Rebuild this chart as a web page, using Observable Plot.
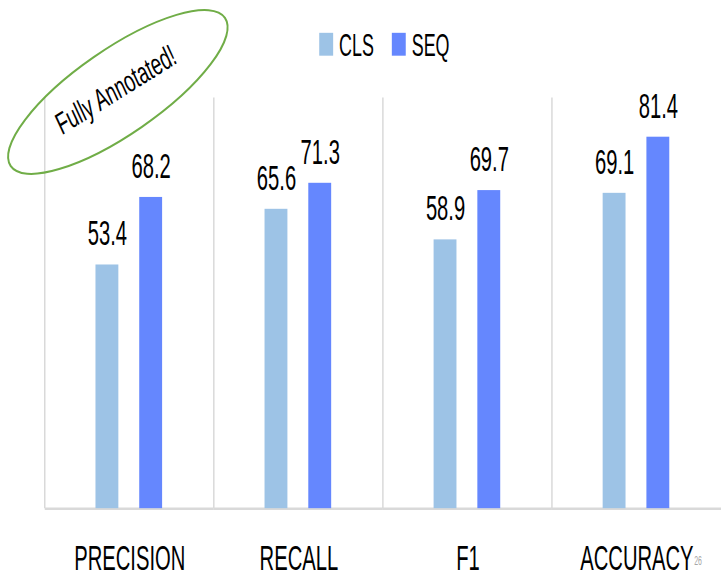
<!DOCTYPE html>
<html><head><meta charset="utf-8">
<script src="https://cdn.jsdelivr.net/npm/d3@7"></script>
<script src="https://cdn.jsdelivr.net/npm/@observablehq/plot@0.6"></script>
<style>
html,body{margin:0;padding:0;background:#fff;}
#chart{position:relative;width:721px;height:578px;overflow:hidden;}
</style></head><body><div id="chart"></div>
<script>
const categories = ["PRECISION", "RECALL", "F1", "ACCURACY"];
const seriesNames = ["CLS", "SEQ"];
const clsValues = [53.4, 65.6, 58.9, 69.1];
const seqValues = [68.2, 71.3, 69.7, 81.4];
const seriesColors = ["#9dc3e6", "#6587fe"];
const annotationText = "Fully Annotated!";
const slideNumber = "26";

const rows = categories.flatMap((c, i) => [
  {category: c, series: seriesNames[0], value: clsValues[i]},
  {category: c, series: seriesNames[1], value: seqValues[i]}
]);

const FONT = "'Liberation Sans', Arial, sans-serif";
const SQUASH = 0.58;

const chart = Plot.plot({
  width: 725, height: 578,
  marginTop: 98, marginBottom: 67, marginLeft: 45, marginRight: 0,
  style: {fontFamily: FONT, background: "white", overflow: "visible", color: "#000"},
  fx: {domain: categories, padding: 0, axis: null},
  x: {domain: seriesNames, paddingInner: 0.477, paddingOuter: 1.17, axis: null},
  y: {domain: [0, 90], axis: null},
  color: {domain: seriesNames, range: seriesColors},
  marks: [
    Plot.ruleY([0], {stroke: "#d9d9d9", strokeWidth: 2.5}),
    Plot.barY(rows, {fx: "category", x: "series", y: "value", fill: "series"}),
    Plot.text(rows, {fx: "category", x: "series", y: "value", text: d => d.value.toFixed(1), dy: -31, fontSize: 35, fill: "#000"}),
    Plot.text(categories, {fx: d => d, text: d => d, frameAnchor: "bottom", lineAnchor: "top", dy: 37, fontSize: 35, fill: "#000"})
  ]
});

document.getElementById("chart").appendChild(chart);

const svg = d3.select(chart);
// squash text horizontally
svg.selectAll("text").each(function() {
  const t = this.getAttribute("transform");
  if (t && t.includes("translate")) {
    this.setAttribute("transform", t + ` scale(${SQUASH},1)`);
  } else {
    const x = parseFloat(this.getAttribute("x")) || 0;
    this.setAttribute("transform", (t || "") + ` translate(${x},0) scale(${SQUASH},1) translate(${-x},0)`);
  }
});

// vertical gridlines at category boundaries (from the fx and y scales)
const fx = chart.scale("fx"), y = chart.scale("y");
const grid = svg.insert("g", ":first-child");
categories.forEach(c => {
  const gx = fx.apply(c);
  grid.append("line")
    .attr("x1", gx).attr("x2", gx)
    .attr("y1", y.apply(0)).attr("y2", y.apply(y.domain[1]))
    .attr("stroke", "#d9d9d9").attr("stroke-width", 1.5);
});

// legend
const legend = svg.append("g").attr("font-family", FONT).attr("text-anchor", "start");
const legendX = [321, 394];
seriesNames.forEach((s, i) => {
  legend.append("rect").attr("x", legendX[i]).attr("y", 33).attr("width", 14).attr("height", 23).attr("fill", seriesColors[i]);
  legend.append("text").attr("transform", `translate(${legendX[i] + 20},56) scale(${SQUASH},1)`)
    .attr("font-size", 31).attr("fill", "#000").text(s);
});

// annotation ellipse
const ann = svg.append("g").attr("font-family", FONT);
ann.append("ellipse").attr("transform", "translate(118.5,92.5) rotate(-34.7)")
  .attr("rx", 131).attr("ry", 42.6).attr("fill", "none").attr("stroke", "#70ad47").attr("stroke-width", 2);
ann.append("text").attr("transform", "translate(116,90) rotate(-32) scale(0.64,1)")
  .attr("text-anchor", "middle").attr("dy", "0.35em").attr("font-size", 30).attr("font-style", "italic")
  .attr("fill", "#000").text(annotationText);

// slide number
svg.append("text").attr("transform", `translate(698,568) scale(${SQUASH},1)`)
  .attr("text-anchor", "start")
  .attr("font-family", FONT).attr("font-size", 12).attr("fill", "#a6a6a6").text(slideNumber);
</script>
</body></html>
